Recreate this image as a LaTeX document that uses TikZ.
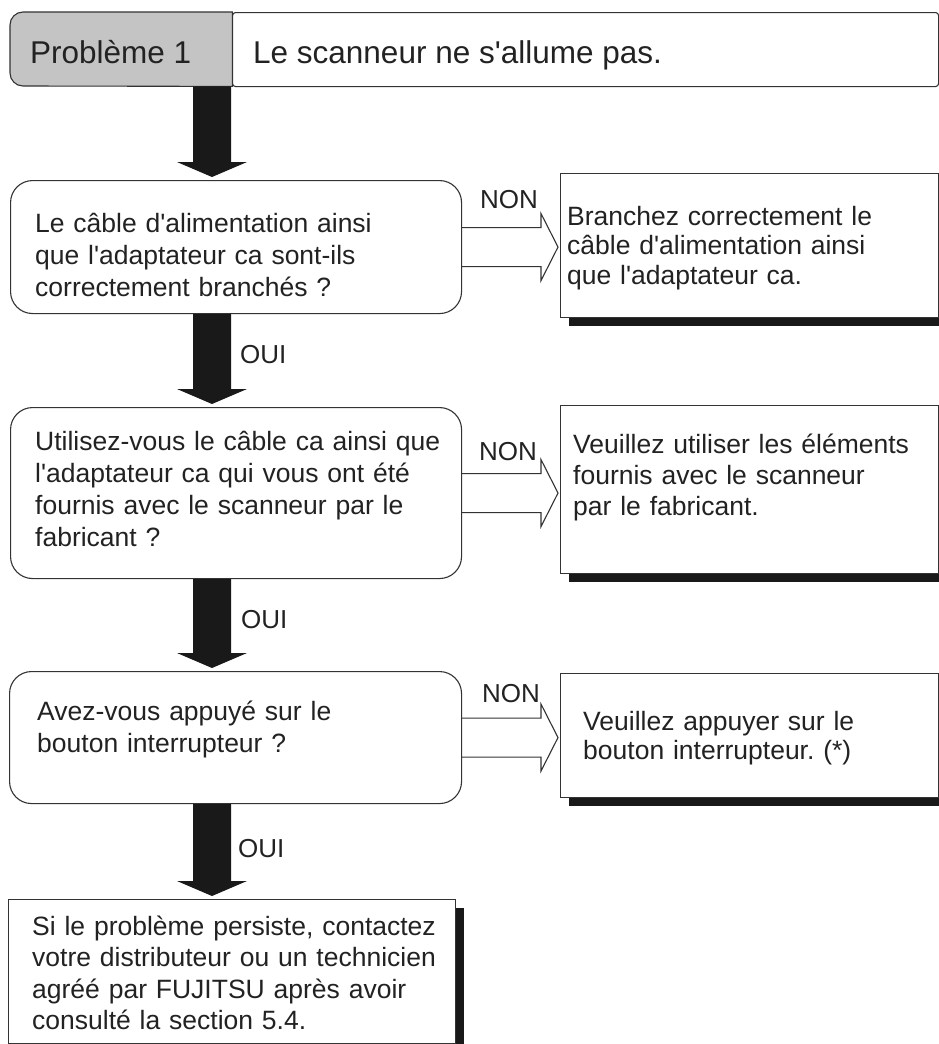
\documentclass[tikz,border=0pt]{standalone}
\usepackage{fontspec}
\setmainfont{Liberation Sans}[Ligatures=TeXOff]
\usetikzlibrary{calc,shadows}
\definecolor{ink}{HTML}{222222}
\definecolor{edge}{HTML}{333333}
\definecolor{hdrgray}{HTML}{C4C4C4}
\frenchspacing
\begin{document}
\begin{tikzpicture}[x=1pt,y=1pt,
  box/.style={draw=edge, line width=1.1pt, fill=white, inner sep=0pt, anchor=north west},
  decbox/.style={box, rounded corners=22pt},
  respbox/.style={box, drop shadow={shadow xshift=8pt, shadow yshift=-8.5pt, opacity=1, fill=black!90}},
  txt/.style={anchor=base west, inner sep=0pt, align=left, text width=440pt, text=ink, font=\fontsize{26.5}{32}\selectfont},
  lbl/.style={anchor=base west, inner sep=0pt, text=ink, font=\fontsize{26}{30}\selectfont},
  downarrow/.style={fill=black!90, to path={let \p1=(\tikztostart.south), \p2=(\tikztotarget.north) in
     (193pt,\y1) -- (231pt,\y1) -- (231pt,{\y2+18pt}) -- (247pt,{\y2+18pt}) -- (212pt,{\y2+3pt})
     -- (177pt,{\y2+18pt}) -- (193pt,{\y2+18pt}) -- cycle}},
  nonarrow/.style={draw=edge, line width=1.1pt, to path={let \p1=(\tikztostart.east), \p2=(\tikztotarget.west) in
     (\x1,{\y1+19.5pt}) -- ({\x2-19pt},{\y1+19.5pt}) -- ({\x2-19pt},{\y1+33.5pt}) -- ({\x2-2pt},\y1)
     -- ({\x2-19pt},{\y1-33.5pt}) -- ({\x2-19pt},{\y1-19.5pt}) -- (\x1,{\y1-19.5pt})}}
]
\useasboundingbox (0,0) rectangle (939,-1044);
\clip (0,0) rectangle (939,-1044);
\fill[white] (0,0) rectangle (939,-1044);

% header
\node[anchor=north west, inner sep=0pt, minimum width=222pt, minimum height=74pt] (hdrL) at (10,-12) {};
\node[anchor=north west, inner sep=0pt, minimum width=706pt, minimum height=74pt, draw=edge, line width=1.1pt, rounded corners=3pt] (hdrR) at (232,-12) {};
\draw[draw=edge, line width=1.1pt, fill=hdrgray] (hdrL.south east) -- (23,-86) arc[start angle=270, end angle=180, radius=13] -- (10,-25) arc[start angle=180, end angle=90, radius=13] -- (hdrL.north east) -- cycle;
\node[lbl, font=\fontsize{31.5}{36}\selectfont] (h1) at (30,-63) {Problème 1};
\node[lbl, font=\fontsize{31.5}{36}\selectfont] (h2) at (253,-63) {Le scanneur ne s'allume pas.};

% decision boxes
\node[decbox, minimum width=451pt, minimum height=133pt] (d1) at (10,-180) {};
\node[decbox, minimum width=451pt, minimum height=171pt] (d2) at (10,-407) {};
\node[decbox, minimum width=452pt, minimum height=132pt] (d3) at (9,-671) {};
\node[respbox, minimum width=447pt, minimum height=144pt] (f) at (8,-899) {};

% response boxes
\node[respbox, minimum width=378pt, minimum height=144pt] (r1) at (560,-173) {};
\node[respbox, minimum width=378pt, minimum height=168pt] (r2) at (560,-405) {};
\node[respbox, minimum width=378pt, minimum height=124pt] (r3) at (560,-673) {};

% texts
\node[txt] (t1) at (35,-232) {Le câble d'alimentation ainsi\\que l'adaptateur ca sont-ils\\correctement branchés ?};
\node[txt] (t2) at (35,-450) {Utilisez-vous le câble ca ainsi que\\l'adaptateur ca qui vous ont été\\fournis avec le scanneur par le\\fabricant ?};
\node[txt] (t3) at (37,-720) {Avez-vous appuyé sur le\\bouton interrupteur ?};
\node[txt, font=\fontsize{26.5}{31.5}\selectfont] (t4) at (32,-935) {Si le problème persiste, contactez\\votre distributeur ou un technicien\\agréé par FUJITSU après avoir\\consulté la section 5.4.};
\node[txt, text width=360pt, font=\fontsize{26.5}{29.5}\selectfont] (s1) at (567,-225) {Branchez correctement le\\câble d'alimentation ainsi\\que l'adaptateur ca.};
\node[txt, text width=360pt, font=\fontsize{26.5}{31}\selectfont] (s2) at (573,-453) {Veuillez utiliser les éléments\\fournis avec le scanneur\\par le fabricant.};
\node[txt, text width=350pt, font=\fontsize{26.5}{29}\selectfont] (s3) at (583,-730) {Veuillez appuyer sur le\\bouton interrupteur. (*)};

% arrows
\path[downarrow] (hdrL) to (d1);
\path[downarrow] (d1) to (d2);
\path[downarrow] (d2) to (d3);
\path[downarrow] (d3) to (f);
\path[nonarrow] (d1) to (r1);
\path[nonarrow] (d2) to (r2);
\path[nonarrow] (d3) to (r3);

% labels
\node[lbl] (o1) at (240,-363) {OUI};
\node[lbl] (o2) at (241,-628) {OUI};
\node[lbl] (o3) at (238,-857) {OUI};
\node[lbl] (n1) at (480,-208) {NON};
\node[lbl] (n2) at (479,-460) {NON};
\node[lbl] (n3) at (482,-702) {NON};
\end{tikzpicture}
\end{document}
